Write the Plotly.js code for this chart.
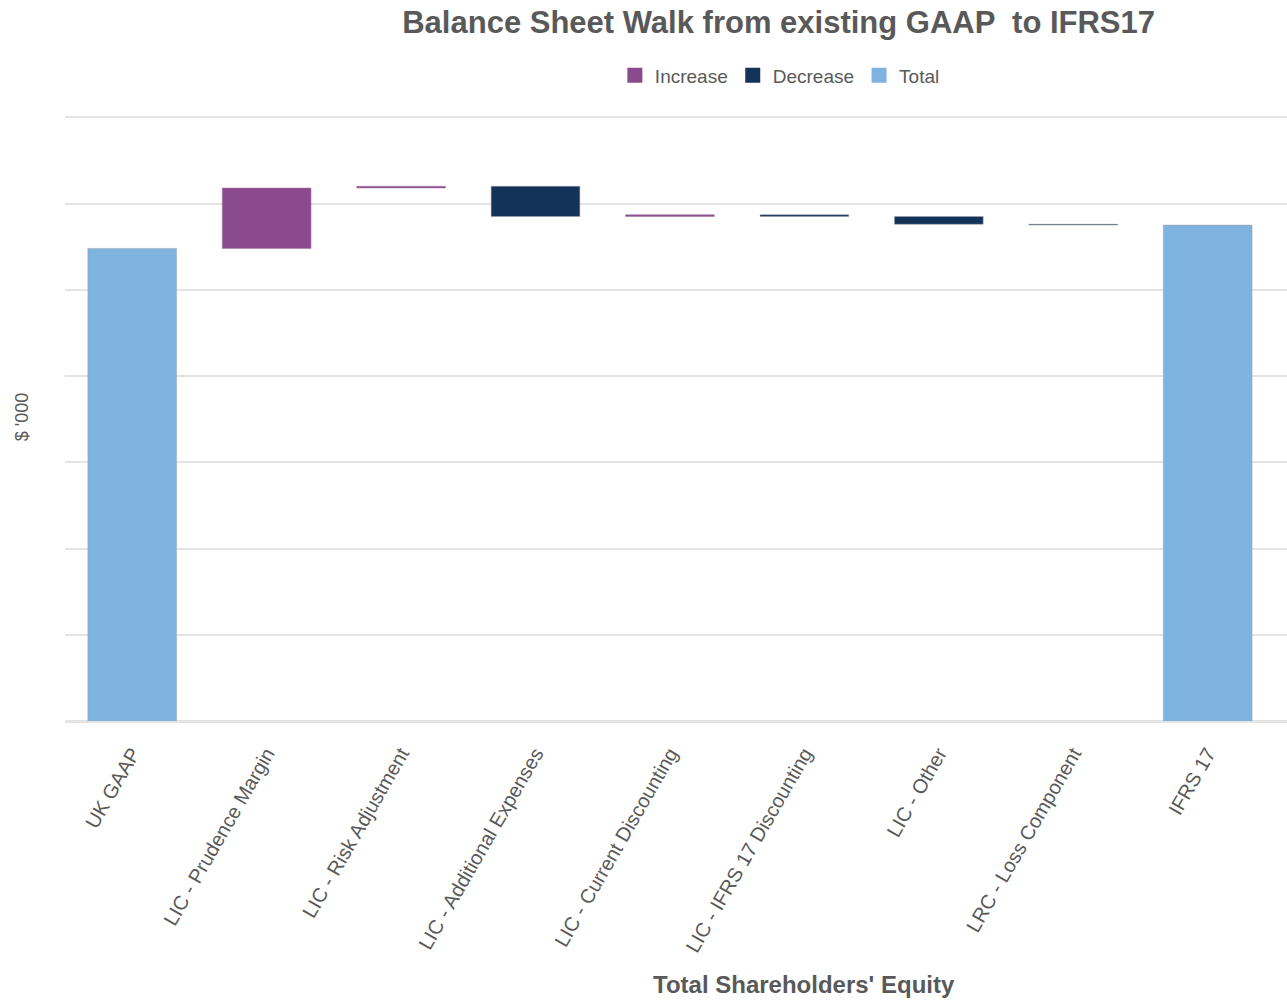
<!DOCTYPE html>
<html>
<head>
<meta charset="utf-8">
<script src="https://cdn.plot.ly/plotly-3.0.1.min.js"></script>
<style>
  html, body { margin: 0; padding: 0; background: #fff; }
  #chart { width: 1287px; height: 1000px; }
</style>
</head>
<body>
<div id="chart"></div>
<script>
// walk steps, $'000 (no tick labels in original)
var categories = ["UK GAAP", "LIC - Prudence Margin", "LIC - Risk Adjustment",
  "LIC - Additional Expenses", "LIC - Current Discounting", "LIC - IFRS 17 Discounting",
  "LIC - Other", "LRC - Loss Component", "IFRS 17"];
var measures = ["absolute", "relative", "relative", "relative", "relative",
  "relative", "relative", "relative", "total"];
var values = [548, 70, 2, -35, 2, -2, -9, -1, 0];
var legendNames = ["Increase", "Decrease", "Total"];
var legendColors = ["#8C4A8E", "#13335A", "#7EB3E0"];

var grey = "#595959";
var edge = { color: "rgba(160,160,160,0.6)", width: 0.8 };

var walk = {
  type: "waterfall",
  x: categories,
  y: values,
  measure: measures,
  showlegend: false,
  hoverinfo: "x+y",
  textinfo: "none",
  increasing: { marker: { color: legendColors[0], line: { color: "rgba(160,120,160,0.7)", width: 0.8 } } },
  decreasing: { marker: { color: legendColors[1], line: edge } },
  totals: { marker: { color: legendColors[2], line: edge } },
  connector: { visible: false },
  width: 0.66
};

// dummy traces just for the legend keys
var keys = legendNames.map(function (n, i) {
  return {
    type: "scatter",
    mode: "markers",
    x: [null], y: [null],
    name: n,
    marker: { symbol: "square", size: 15, color: legendColors[i] }
  };
});

var layout = {
  width: 1287,
  height: 1000,
  paper_bgcolor: "#fff",
  plot_bgcolor: "#fff",
  margin: { l: 65, r: 0, t: 113, b: 279 },
  font: { family: "Liberation Sans, Arial, sans-serif", color: grey },
  title: {
    text: "<b>Balance Sheet Walk from existing GAAP  to IFRS17</b>",
    font: { size: 31, color: grey },
    x: 0.605, xanchor: "center",
    y: 0.978, yanchor: "middle"
  },
  showlegend: true,
  legend: {
    orientation: "h",
    x: 0.585, xanchor: "center",
    y: 1.062, yanchor: "middle",
    font: { size: 19, color: grey },
    itemwidth: 30,
    traceorder: "normal"
  },
  xaxis: {
    type: "category",
    range: [-0.5, 8.59],
    tickangle: -60,
    tickfont: { size: 20, color: grey },
    ticks: "outside",
    ticklen: 12,
    tickcolor: "rgba(0,0,0,0)",
    showgrid: false,
    zeroline: false,
    showline: false
  },
  yaxis: {
    range: [0, 705],
    dtick: 100,
    showticklabels: false,
    gridcolor: "#e4e4e4",
    gridwidth: 2,
    zeroline: true,
    zerolinecolor: "#e4e4e4",
    zerolinewidth: 3,
    title: { text: "$ '000", font: { size: 18, color: grey }, standoff: 30 }
  },
  annotations: [{
    text: "<b>Total Shareholders' Equity</b>",
    xref: "paper", yref: "paper",
    x: 0.605, y: -0.433,
    xanchor: "center", yanchor: "middle",
    showarrow: false,
    font: { size: 24, color: grey }
  }]
};

Plotly.newPlot("chart", [walk].concat(keys), layout, { displayModeBar: false });
</script>
</body>
</html>
